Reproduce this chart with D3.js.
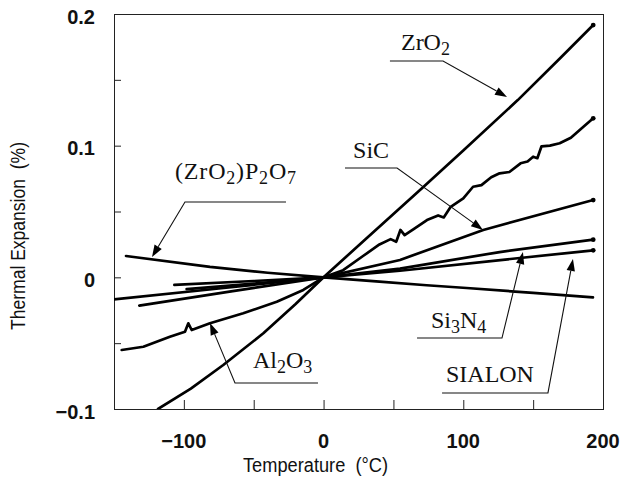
<!DOCTYPE html>
<html>
<head>
<meta charset="utf-8">
<script src="https://cdn.jsdelivr.net/npm/d3@7"></script>
<style>
  html, body { margin: 0; padding: 0; background: #fff; }
  svg { display: block; }
</style>
</head>
<body>
<svg id="chart" width="621" height="481"></svg>
<script>
// Axis extents and tick values
const tempDomain = [-150, 200];          // °C
const expDomain = [-0.1, 0.2];           // %
const tempLabelTicks = [-100, 0, 100, 200];
const tempTickMarks = [-100, -50, 0, 50, 100, 150];
const expLabelTicks = [0.2, 0.1, 0, -0.1];
const expTickMarks = [0.15, 0.1, 0.05, 0, -0.05];

// Measured expansion curves: [temperature (°C), thermal expansion (%)]
const zro2 = [[-118.5, -0.1], [-95, -0.0845], [-71.8, -0.0666], [-43.1, -0.0425], [-20, -0.0202],
  [0, 0], [30, 0.0290], [71, 0.0683], [100, 0.0964], [139, 0.1346], [170, 0.1672], [193, 0.1916]];
const al2o3 = [[-144.5, -0.0552], [-129, -0.0527], [-110, -0.0451], [-99.2, -0.0413], [-96.8, -0.0349],
  [-94.4, -0.0400], [-81.3, -0.0349], [-57.5, -0.0273], [-33.5, -0.0185], [-14.5, -0.0096], [0, 0],
  [14, 0.0054], [28, 0.016], [40, 0.025], [48, 0.029], [52, 0.027], [55, 0.036], [58, 0.032],
  [65, 0.037], [74, 0.0435], [82, 0.047], [86, 0.0455], [91, 0.0536], [100, 0.060], [107, 0.0688],
  [113, 0.070], [120, 0.076], [126, 0.079], [133, 0.080], [141, 0.0866], [146, 0.0880], [150, 0.0916],
  [153, 0.0905], [156, 0.0995], [162, 0.1000], [169, 0.1018], [177, 0.106], [186, 0.1144], [193, 0.1208]];
const sic = [[-131.9, -0.0215], [-65, -0.0105], [0, 0], [54.7, 0.0132], [114.3, 0.036], [193, 0.0587]];
const si3n4 = [[-150, -0.0167], [-75, -0.0085], [0, 0], [54.7, 0.0066], [126, 0.0192], [193, 0.0286]];
const sialon = [[-106.8, -0.0058], [-50, -0.0028], [0, 0], [54.7, 0.005], [130, 0.0135], [193, 0.0205]];
const sialonLow = [[-98, -0.0089], [-50, -0.0048], [0, 0]];
const zrp2o7 = [[-141.4, 0.0162], [-81.3, 0.0080], [-40, 0.0035], [0, 0], [40, -0.0032],
  [73.8, -0.006], [102.4, -0.0081], [150, -0.0118], [192.8, -0.0152]];

const curves = [
  { name: "ZrO2", points: zro2, endDot: true },
  { name: "Al2O3", points: al2o3, endDot: true },
  { name: "SiC", points: sic, endDot: true },
  { name: "Si3N4", points: si3n4, endDot: true },
  { name: "SIALON", points: sialon, endDot: true },
  { name: "SIALON-low", points: sialonLow, endDot: false },
  { name: "(ZrO2)P2O7", points: zrp2o7, endDot: false }
];

// Call-out labels: text parts ([text, isSubscript]), anchor and leader path in data units
const callouts = [
  { parts: [["ZrO", 0], ["2", 1]], at: [55.4, 0.1727],
    leader: [[47.5, 0.1643], [85.5, 0.1643], [131.3, 0.1370]] },
  { parts: [["SiC", 0]], at: [21.1, 0.0906],
    leader: [[15.3, 0.0830], [52.6, 0.0830], [114.1, 0.0360]] },
  { parts: [["(ZrO", 0], ["2", 1], [")P", 0], ["2", 1], ["O", 0], ["7", 1]], at: [-106.3, 0.0747], width: 121,
    leader: [[-26.9, 0.0572], [-99.2, 0.0572], [-122.8, 0.0154]] },
  { parts: [["Al", 0], ["2", 1], ["O", 0], ["3", 1]], at: [-50.5, -0.0689],
    leader: [[-4.0, -0.0803], [-63.4, -0.0803], [-81.3, -0.0347]] },
  { parts: [["Si", 0], ["3", 1], ["N", 0], ["4", 1]], at: [76.9, -0.0385],
    leader: [[66.9, -0.0461], [127.7, -0.0461], [142.7, 0.0192]] },
  { parts: [["SIALON", 0]], at: [87.6, -0.0795],
    leader: [[84.8, -0.0878], [160.6, -0.0878], [178.5, 0.0139]] }
];

const svg = d3.select("#chart");
const x = d3.scaleLinear().domain(tempDomain).range([114, 603]);
const y = d3.scaleLinear().domain(expDomain).range([409, 14]);
const [x0, x1] = x.range();
const [y0, y1] = y.range();

const sans = "'Liberation Sans', Arial, sans-serif";
const serif = "'Liberation Serif', 'Times New Roman', serif";

svg.append("rect").attr("width", 621).attr("height", 481).attr("fill", "#fff");

// Plot frame
svg.append("rect")
  .attr("x", x0 + 0.5).attr("y", y1 + 0.5)
  .attr("width", x1 - x0).attr("height", y0 - y1)
  .attr("fill", "none").attr("stroke", "#222").attr("stroke-width", 1);

// Inward tick marks
svg.append("g")
  .attr("transform", `translate(0,${y0})`)
  .call(d3.axisBottom(x).tickValues(tempTickMarks).tickSize(-9).tickFormat(""))
  .call(g => g.select(".domain").remove())
  .call(g => g.selectAll("line").attr("stroke", "#222"));
svg.append("g")
  .attr("transform", `translate(${x0},0)`)
  .call(d3.axisLeft(y).tickValues(expTickMarks).tickSize(-7).tickFormat(""))
  .call(g => g.select(".domain").remove())
  .call(g => g.selectAll("line").attr("stroke", "#222"));

// Tick labels
const fmtX = d3.format("d");
const fmtY = d => d === 0 ? "0" : d3.format(".1f")(d);
svg.append("g").selectAll("text").data(tempLabelTicks).join("text")
  .attr("x", d => x(d)).attr("y", 448)
  .attr("text-anchor", "middle")
  .attr("font-family", sans).attr("font-size", 20).attr("font-weight", "bold")
  .attr("fill", "#111")
  .text(fmtX);
svg.append("g").selectAll("text").data(expLabelTicks).join("text")
  .attr("x", 95).attr("y", d => y(d) + 9.5)
  .attr("text-anchor", "end")
  .attr("font-family", sans).attr("font-size", 20).attr("font-weight", "bold")
  .attr("fill", "#111")
  .text(fmtY);

// Axis titles
svg.append("text")
  .attr("x", 243).attr("y", 472)
  .attr("font-family", sans).attr("font-size", 20)
  .attr("textLength", 145).attr("lengthAdjust", "spacingAndGlyphs")
  .attr("fill", "#111")
  .text("Temperature\u00a0\u00a0(\u00b0C)");
svg.append("text")
  .attr("transform", "translate(25,330) rotate(-90)")
  .attr("font-family", sans).attr("font-size", 20)
  .attr("textLength", 188).attr("lengthAdjust", "spacingAndGlyphs")
  .attr("fill", "#111")
  .text("Thermal Expansion\u00a0\u00a0(%)");

// Curves
svg.append("clipPath").attr("id", "plot-clip")
  .append("rect").attr("x", x0).attr("y", y1).attr("width", x1 - x0).attr("height", y0 - y1);

const line = d3.line().x(d => x(d[0])).y(d => y(d[1]));
const curveLayer = svg.append("g").attr("clip-path", "url(#plot-clip)");
curveLayer.selectAll("path").data(curves).join("path")
  .attr("d", d => line(d.points))
  .attr("fill", "none").attr("stroke", "#000")
  .attr("stroke-width", 2.7)
  .attr("stroke-linejoin", "round").attr("stroke-linecap", "round");
curveLayer.selectAll("circle").data(curves.filter(c => c.endDot)).join("circle")
  .attr("cx", d => x(d.points[d.points.length - 1][0]))
  .attr("cy", d => y(d.points[d.points.length - 1][1]))
  .attr("r", 2.4).attr("fill", "#000");

// Call-outs with leader arrows
const calloutLayer = svg.append("g");
callouts.forEach(c => {
  const pts = c.leader.map(p => [x(p[0]), y(p[1])]);
  const [tx, ty] = pts[pts.length - 1];
  const [px, py] = pts[pts.length - 2];
  const len = Math.hypot(tx - px, ty - py);
  const ux = (tx - px) / len, uy = (ty - py) / len;
  const headLen = 12, headHalf = 4.2;
  const bx = tx - ux * headLen, by = ty - uy * headLen;
  const shaft = pts.slice(0, -1).concat([[bx, by]]);
  calloutLayer.append("path")
    .attr("d", d3.line()(shaft))
    .attr("fill", "none").attr("stroke", "#111").attr("stroke-width", 1.1);
  calloutLayer.append("path")
    .attr("d", d3.line()([[tx, ty], [bx - uy * headHalf, by + ux * headHalf], [bx + uy * headHalf, by - ux * headHalf]]) + "Z")
    .attr("fill", "#000");

  const t = calloutLayer.append("text")
    .attr("x", x(c.at[0])).attr("y", y(c.at[1]))
    .attr("font-family", serif).attr("font-size", 24)
    .attr("fill", "#111");
  if (c.width) t.attr("textLength", c.width).attr("lengthAdjust", "spacing");
  let shifted = false;
  c.parts.forEach(([s, sub]) => {
    const ts = t.append("tspan").text(s);
    if (sub && !shifted) { ts.attr("dy", 5).attr("font-size", 18); shifted = true; }
    else if (sub) { ts.attr("font-size", 18); }
    else if (shifted) { ts.attr("dy", -5); shifted = false; }
  });
});
</script>
</body>
</html>
